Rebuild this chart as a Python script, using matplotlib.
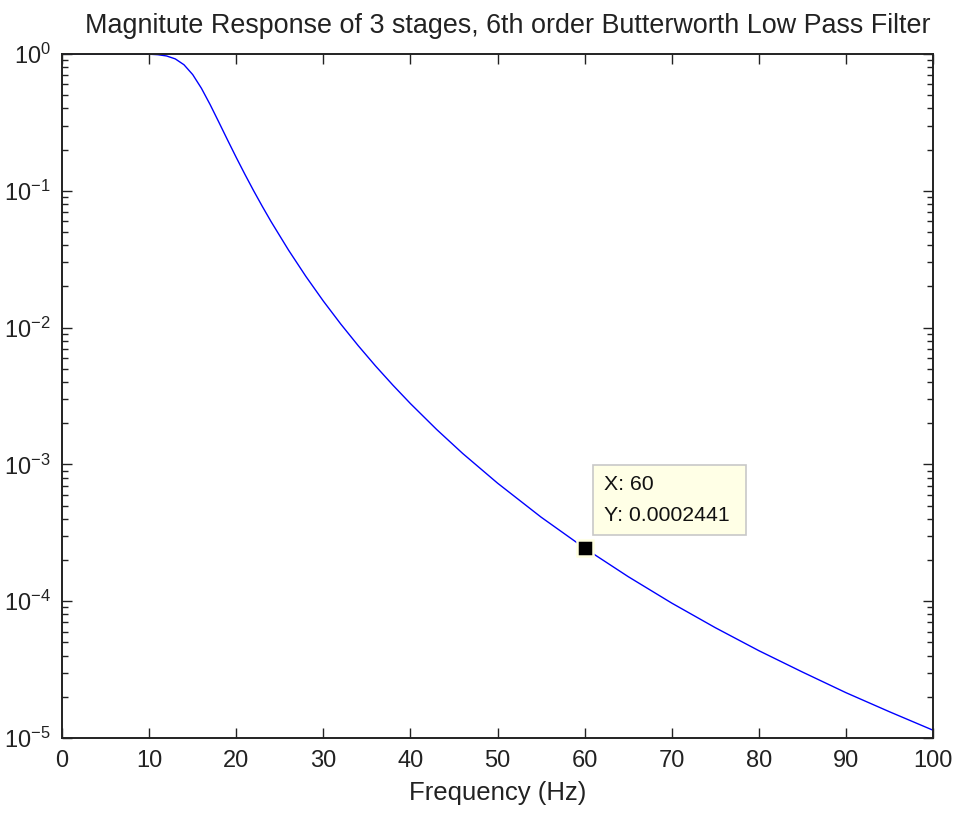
import matplotlib
matplotlib.use("Agg")
import matplotlib.pyplot as plt
from matplotlib.ticker import LogLocator, FixedLocator, NullLocator

plt.rcParams['font.family'] = ['Liberation Sans', 'DejaVu Sans']
plt.rcParams['mathtext.fontset'] = 'custom'
plt.rcParams['mathtext.rm'] = 'Liberation Sans'
plt.rcParams['mathtext.it'] = 'Liberation Sans'

# Data
freq = [0, 4, 8, 10, 11, 12, 13, 14, 15, 16, 17, 18, 19, 20, 21, 22, 23, 24,
        26, 28, 30, 32, 34, 36, 38, 40, 43, 46, 50, 55, 60, 65, 70, 75, 80,
        85, 90, 95, 100]
magnitude = [1.0, 1.0, 0.9997, 0.9962, 0.9881, 0.9673, 0.9207, 0.8342, 0.7071,
             0.5617, 0.4268, 0.3176, 0.2353, 0.1752, 0.1317, 0.09995, 0.07674,
             0.0595, 0.03686, 0.02363, 0.01562, 0.01061, 0.007378, 0.005233,
             0.003785, 0.002781, 0.001801, 0.001201, 0.000729, 0.0004113,
             0.0002441, 0.0001511, 9.679e-5, 6.4e-5, 4.345e-5, 3.034e-5,
             2.143e-5, 1.554e-5, 1.139e-5]
xticks = [0, 10, 20, 30, 40, 50, 60, 70, 80, 90, 100]
ytick_exponents = [0, -1, -2, -3, -4, -5]
tip_x = 60
tip_y = 0.0002441

fig = plt.figure(figsize=(9.56, 8.13), dpi=100)
ax = fig.add_axes([0.0649, 0.0923, 0.9111, 0.8413])

ax.plot(freq, magnitude, color='#0000ff', lw=1.0, zorder=2)
ax.set_yscale('log')
ax.set_xlim(0, 100)
ax.set_ylim(1e-5, 1)

ax.xaxis.set_major_locator(FixedLocator(xticks))
ax.xaxis.set_minor_locator(NullLocator())
ax.set_yticks([10.0 ** e for e in ytick_exponents])
ax.set_yticklabels([r'$\mathregular{10^{%d}}$' % e for e in ytick_exponents])
ax.yaxis.set_minor_locator(LogLocator(base=10, subs=range(2, 10), numticks=20))

for s in ax.spines.values():
    s.set_linewidth(1.4)
    s.set_color('#222222')
    s.set_zorder(4)

ax.tick_params(axis='both', which='major', direction='in', length=7, width=1.0,
               top=True, right=True, labelsize=17, color='#222222', labelcolor='#222222')
ax.tick_params(axis='x', which='major', pad=9)
ax.tick_params(axis='y', which='major', pad=8)
ax.tick_params(axis='y', which='minor', direction='in', length=4, width=1.0,
               left=True, right=True, color='#222222')

ax.set_title('Magnitute Response of 3 stages, 6th order Butterworth Low Pass Filter',
             fontsize=19.4, pad=15, color='#222222', x=0.512)
ax.set_xlabel('Frequency (Hz)', fontsize=18.5, labelpad=6, color='#222222')

# data tip
ax.plot([tip_x], [tip_y], marker='s', markersize=11.5, markerfacecolor='black',
        markeredgecolor='#FFFFE1', markeredgewidth=1.8, zorder=5, linestyle='none')
ax.annotate('X: %d\nY: %s ' % (tip_x, '0.0002441'), xy=(tip_x, tip_y),
            xytext=(14, 17), textcoords='offset points', ha='left', va='bottom',
            fontsize=15.3, color='#111111', linespacing=1.75,
            bbox=dict(boxstyle='square,pad=0.5', fc='#FFFFE6', ec='#C8C8C8', lw=1.2),
            zorder=6)

fig.savefig('out.png', dpi=100)
